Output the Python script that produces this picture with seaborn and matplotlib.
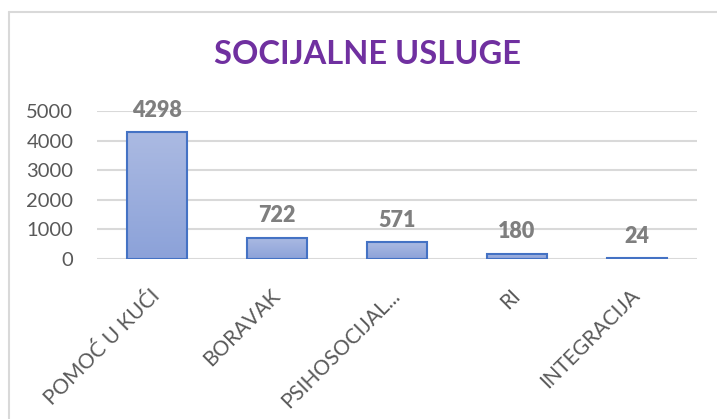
import numpy as np
import matplotlib
matplotlib.use("Agg")
import matplotlib.pyplot as plt
import matplotlib.transforms as mtransforms
from matplotlib.lines import Line2D
from matplotlib.colors import LinearSegmentedColormap
import seaborn as sns

categories = ["POMOĆ U KUĆI", "BORAVAK", "PSIHOSOCIJAL...", "RI", "INTEGRACIJA"]
values = [4298, 722, 571, 180, 24]
yticks = [0, 1000, 2000, 3000, 4000, 5000]
title = "SOCIJALNE USLUGE"

sns.set_theme(style="white")
plt.rcParams["font.family"] = ["Lato", "DejaVu Sans"]

fig = plt.figure(figsize=(7.17, 4.19), dpi=100)
ax = fig.add_axes([97 / 717, 1 - 259 / 419, 600 / 717, 148 / 419])

sns.barplot(x=categories, y=values, width=0.5, color="#9CAEDD",
            edgecolor="#4472C4", linewidth=1.5, ax=ax, zorder=3)

# vertical gradient inside each bar, like the office chart
grad = LinearSegmentedColormap.from_list("bar", ["#8CA2D9", "#ABBAE2"])
for p in ax.patches:
    x0, y0 = p.get_x(), p.get_y()
    w, h = p.get_width(), p.get_height()
    im = ax.imshow(np.linspace(0, 1, 64).reshape(-1, 1), cmap=grad, origin="lower",
                   extent=[x0, x0 + w, y0, y0 + h], aspect="auto", zorder=3.5)
    im.set_clip_path(p)
    p.set_facecolor("none")
    p.set_zorder(4)

ax.set_xlim(-0.5, len(categories) - 0.5)
ax.set_ylim(0, 5000)
ax.set_yticks(yticks)
ax.set_yticklabels([str(t) for t in yticks], fontsize=14.5, color="#595959")
ax.yaxis.grid(True, color="#D9D9D9", linewidth=1.5, zorder=0)
ax.set_axisbelow(True)
for s in ax.spines.values():
    s.set_visible(False)
ax.tick_params(axis="both", length=0)
ax.tick_params(axis="y", pad=17)

ax.set_xticks(range(len(categories)))
ax.set_xticklabels(categories, fontsize=15, color="#595959", rotation=45,
                   ha="right", va="center", rotation_mode="anchor")
offset = mtransforms.ScaledTranslation(6 / 72, 0, fig.dpi_scale_trans)
for lbl in ax.get_xticklabels():
    lbl.set_transform(lbl.get_transform() + offset)
ax.tick_params(axis="x", pad=24)

for i, v in enumerate(values):
    ax.annotate(str(v), (i, v), xytext=(0, 11), textcoords="offset points",
                ha="center", va="baseline", fontsize=15.5, fontweight="heavy",
                color="#7F7F7F", zorder=5)

fig.text(368 / 717, 1 - 55 / 419, title, ha="center", va="center",
         fontsize=23.5, fontweight="bold", color="#7030A0")

# chart frame (left and top edges are the visible ones)
fig.add_artist(Line2D([9 / 717, 9 / 717], [0, 1 - 12 / 419], color="#D9D9D9", lw=1.5))
fig.add_artist(Line2D([9 / 717, 1], [1 - 12 / 419, 1 - 12 / 419], color="#D9D9D9", lw=1.5))

fig.savefig("out.png", dpi=100, facecolor="white")
